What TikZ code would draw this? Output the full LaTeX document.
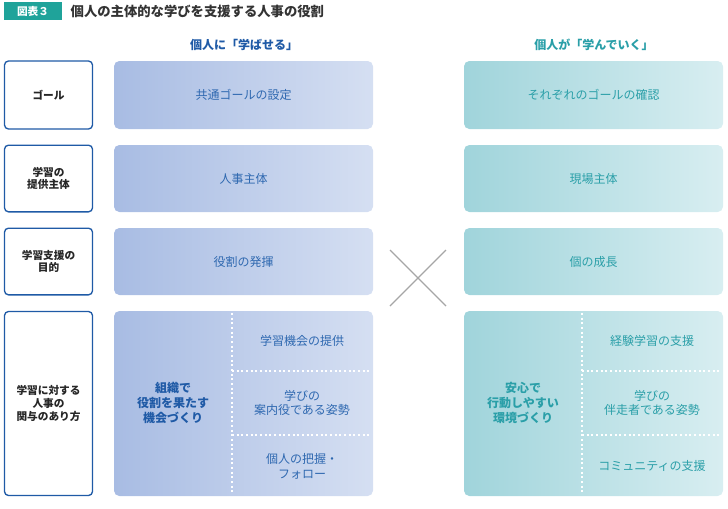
\documentclass[tikz,border=0pt]{standalone}
\usepackage{fontspec}
\setmainfont{Noto Sans CJK JP}
\usetikzlibrary{positioning}
\definecolor{titleteal}{HTML}{1FA39A}
\definecolor{bluetxt}{HTML}{2E68B0}
\definecolor{bluedark}{HTML}{1F5AA6}
\definecolor{blueL}{HTML}{A8BCE3}
\definecolor{blueR}{HTML}{D5DFF2}
\definecolor{tealtxt}{HTML}{2A9FA8}
\definecolor{tealL}{HTML}{A0D4DB}
\definecolor{tealR}{HTML}{D8EEF1}
\tikzset{
  rowlabel/.style={draw=bluedark,line width=1pt,rounded corners=3pt,fill=white,
    minimum width=66pt,align=center,font=\footnotesize\bfseries,text=black!85},
  bluetext/.style={text=bluetxt,align=center,font=\small},
  tealtext/.style={text=tealtxt,align=center,font=\small},
  sepline/.style={white,line width=1.5pt,dash pattern=on 1.5pt off 2pt},
}
\begin{document}
\begin{tikzpicture}[x=0.75pt,y=-0.75pt]
    \useasboundingbox (0,0) rectangle (728,508);

    %Titulo
    \fill[titleteal] (4,2) rectangle (62,20);
    \node[text=white,font=\footnotesize\bfseries] (tag) at (33,11) {図表３};
    \node[anchor=west,font=\bfseries,text=black!80] (title) at (66,11) {個人の主体的な学びを支援する人事の役割};

    %Cabeceras
    \node[text=bluedark,font=\small\bfseries] (headA) at (244,45) {個人に「学ばせる」};
    \node[text=tealtxt,font=\small\bfseries] (headB) at (594,45) {個人が「学んでいく」};

    %Filas
    \node[rowlabel,minimum height=51pt] (r1) at (48.5,95) {ゴール};
    \node[rowlabel,minimum height=50pt] (r2) at (48.5,178.5) {学習の\\提供主体};
    \node[rowlabel,minimum height=50pt] (r3) at (48.5,261.5) {学習支援の\\目的};
    \node[rowlabel,minimum height=138pt] (r4) at (48.5,403.5) {学習に対する\\人事の\\関与のあり方};

    %Columnas
    \foreach \ya/\yb in {61/129,145/212,228/295,311/496}{
        \shade[left color=blueL,right color=blueR,rounded corners=4pt] (114,\ya) rectangle (373,\yb);
        \shade[left color=tealL,right color=tealR,rounded corners=4pt] (464,\ya) rectangle (723,\yb);
    }
    \node[bluetext] (a1) at (243.5,95) {共通ゴールの設定};
    \node[bluetext] (a2) at (243.5,178.5) {人事主体};
    \node[bluetext] (a3) at (243.5,261.5) {役割の発揮};
    \node[tealtext] (b1) at (593.5,95) {それぞれのゴールの確認};
    \node[tealtext] (b2) at (593.5,178.5) {現場主体};
    \node[tealtext] (b3) at (593.5,261.5) {個の成長};

    %Bloque inferior
    \draw[sepline] (232,313)--(232,494);
    \draw[sepline] (232,371)--(371,371);
    \draw[sepline] (232,435)--(371,435);
    \draw[sepline] (582,313)--(582,494);
    \draw[sepline] (582,371)--(721,371);
    \draw[sepline] (582,435)--(721,435);
    \node[bluetext,font=\small\bfseries,text=bluedark] (a4) at (173,403) {組織で\\役割を果たす\\機会づくり};
    \node[bluetext] (a5) at (302,341) {学習機会の提供};
    \node[bluetext] (a6) at (302,403) {学びの\\案内役である姿勢};
    \node[bluetext] (a7) at (302,466) {個人の把握・\\フォロー};
    \node[tealtext,font=\small\bfseries] (b4) at (523,403) {安心で\\行動しやすい\\環境づくり};
    \node[tealtext] (b5) at (652,341) {経験学習の支援};
    \node[tealtext] (b6) at (652,403) {学びの\\伴走者である姿勢};
    \node[tealtext] (b7) at (652,466) {コミュニティの支援};

    %Cruz
    \coordinate (c1) at (390,250);
    \coordinate (c2) at (446,306);
    \coordinate (c3) at (446,250);
    \coordinate (c4) at (390,306);
    \draw[gray!70,line width=1pt] (c1)--(c2);
    \draw[gray!70,line width=1pt] (c3)--(c4);
\end{tikzpicture}
\end{document}
